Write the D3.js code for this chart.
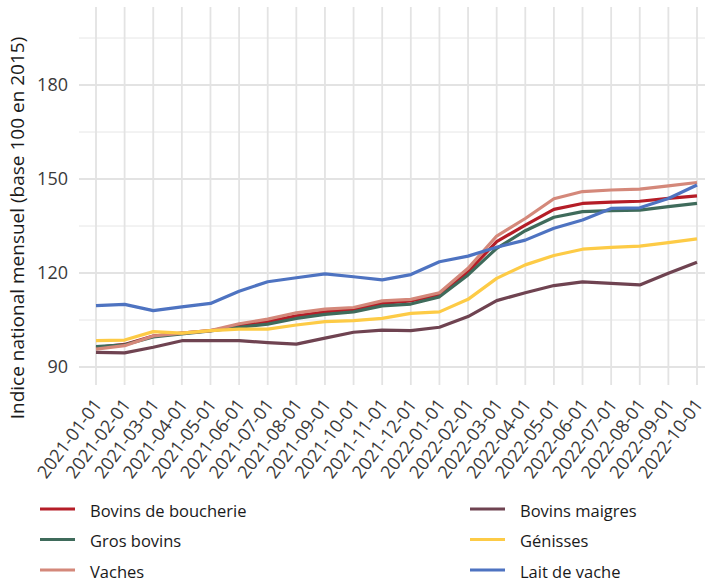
<!DOCTYPE html>
<html>
<head>
<meta charset="utf-8">
<script src="https://cdn.jsdelivr.net/npm/d3@7"></script>
<style>
  body { margin: 0; background: #fff; }
  svg { display: block; font-family: "Open Sans", "Noto Sans", sans-serif; }
</style>
</head>
<body>
<div id="chart"></div>
<script>
// indices mensuels (base 100 en 2015)
var dates = ["2021-01-01", "2021-02-01", "2021-03-01", "2021-04-01", "2021-05-01", "2021-06-01",
             "2021-07-01", "2021-08-01", "2021-09-01", "2021-10-01", "2021-11-01", "2021-12-01",
             "2022-01-01", "2022-02-01", "2022-03-01", "2022-04-01", "2022-05-01", "2022-06-01",
             "2022-07-01", "2022-08-01", "2022-09-01", "2022-10-01"];

var series = ["Bovins de boucherie", "Gros bovins", "Vaches", "Bovins maigres", "Génisses", "Lait de vache"];

var data_boucherie = [96.2, 97.2, 99.9, 100.8, 101.6, 103.1, 104.5, 106.3, 107.6, 108.4, 110.3, 111.1,
                      113.0, 120.4, 130.0, 135.3, 140.3, 142.2, 142.6, 142.9, 143.8, 144.6];
var data_gros = [96.5, 97.1, 99.6, 100.6, 101.5, 102.7, 103.7, 105.5, 106.8, 107.6, 109.5, 110.1,
                 112.4, 119.4, 127.9, 133.5, 137.8, 139.6, 139.9, 140.1, 141.2, 142.2];
var data_vaches = [95.7, 96.8, 99.9, 100.8, 101.6, 103.8, 105.3, 107.3, 108.5, 109.0, 111.1, 111.6,
                   113.7, 121.5, 131.8, 137.4, 143.7, 146.0, 146.5, 146.8, 147.8, 148.9];
var data_maigres = [94.7, 94.5, 96.3, 98.4, 98.4, 98.4, 97.8, 97.3, 99.2, 101.1, 101.8, 101.6,
                    102.7, 106.1, 111.2, 113.7, 116.0, 117.2, 116.7, 116.2, 119.9, 123.4];
var data_genisses = [98.4, 98.6, 101.3, 100.8, 101.6, 102.1, 102.1, 103.4, 104.5, 104.8, 105.5, 107.1,
                     107.6, 111.6, 118.3, 122.6, 125.6, 127.6, 128.2, 128.6, 129.7, 130.9];
var data_lait = [109.6, 110.0, 108.0, 109.2, 110.3, 114.2, 117.2, 118.5, 119.7, 118.8, 117.8, 119.5,
                 123.6, 125.4, 128.2, 130.5, 134.3, 136.9, 140.6, 140.8, 143.8, 148.1];

var yTicks = [90, 120, 150, 180];
var yMinor = [105, 135, 165, 195];

var values = [data_boucherie, data_gros, data_vaches, data_maigres, data_genisses, data_lait];
var color = ["#b51d27", "#3f6b5b", "#d4887a", "#6f4351", "#fdcb46", "#4e73c1"];

var svg = d3.select("#chart")
            .append("svg")
            .attr("width", 705)
            .attr("height", 583);

var x = d3.scalePoint().domain(dates).range([96, 697]);
var y = d3.scaleLinear().domain([84.26, 204.9]).range([385, 7]);

// grille
yMinor.forEach(function (v) {
    svg.append("line")
        .attr("x1", 79).attr("x2", 705)
        .attr("y1", y(v)).attr("y2", y(v))
        .style("stroke", "#e6e6e6")
        .style("stroke-width", 1);
});
yTicks.forEach(function (v) {
    svg.append("line")
        .attr("x1", 79).attr("x2", 705)
        .attr("y1", y(v)).attr("y2", y(v))
        .style("stroke", "#e3e3e3")
        .style("stroke-width", 1.8);
});
dates.forEach(function (d) {
    svg.append("line")
        .attr("x1", x(d)).attr("x2", x(d))
        .attr("y1", 7).attr("y2", 385)
        .style("stroke", "#e3e3e3")
        .style("stroke-width", 1.8);
});

// axes
var gy = svg.append("g")
    .attr("transform", "translate(74,0)")
    .call(d3.axisLeft(y).tickValues(yTicks).tickSize(0).tickPadding(6));
gy.select(".domain").remove();
gy.selectAll("text")
    .style("font-size", "18px")
    .attr("fill", "#3a3a3a")
    .attr("font-family", "Open Sans");

var gx = svg.append("g")
    .attr("transform", "translate(0,385)")
    .call(d3.axisBottom(x).tickSize(0));
gx.select(".domain").remove();
gx.selectAll("text")
    .attr("x", 0).attr("y", 0).attr("dy", "0.71em")
    .attr("text-anchor", "end")
    .attr("transform", "translate(-4,12) rotate(-53)")
    .style("font-size", "18px")
    .attr("fill", "#3a3a3a")
    .attr("font-family", "Open Sans");

svg.append("text")
    .attr("transform", "translate(24,228) rotate(-90)")
    .attr("text-anchor", "middle")
    .text("Indice national mensuel (base 100 en 2015)")
    .style("font-size", "19px")
    .attr("fill", "#1a1a1a");

// courbes
var line = d3.line()
    .x(function (d, i) { return x(dates[i]); })
    .y(function (d) { return y(d); });

for (var i = 0; i < series.length; i++) {
    svg.append("path")
        .datum(values[i])
        .attr("d", line)
        .attr("fill", "none")
        .style("stroke", color[i])
        .style("stroke-width", 3.2)
        .style("stroke-linejoin", "round");
}

// légende
for (var i = 0; i < series.length; i++) {
    var col = Math.floor(i / 3), row = i % 3;
    var lx = col == 0 ? 40 : 470;
    var ly = 509 + row * 30.5;
    svg.append("line")
        .attr("x1", lx).attr("x2", lx + 35)
        .attr("y1", ly).attr("y2", ly)
        .style("stroke", color[i])
        .style("stroke-width", 3.2);
    svg.append("text")
        .attr("x", lx + 50)
        .attr("y", ly + 7.5)
        .text(series[i])
        .style("font-size", "16.5px")
        .attr("fill", "#1a1a1a");
}
</script>
</body>
</html>
